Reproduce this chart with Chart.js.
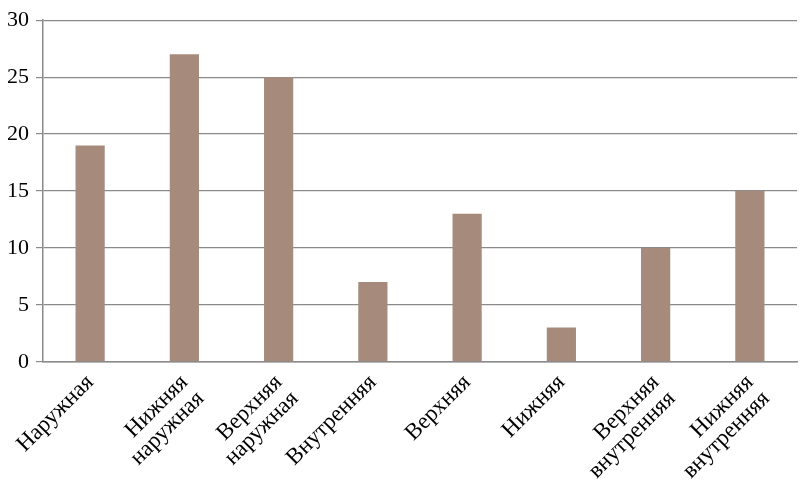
<!DOCTYPE html>
<html>
<head>
<meta charset="utf-8">
<script src="https://cdn.jsdelivr.net/npm/chart.js@4/dist/chart.umd.min.js"></script>
<style>
  html, body { margin: 0; padding: 0; background: #fff; }
  #wrap { width: 800px; height: 487px; }
</style>
</head>
<body>
<div id="wrap"><canvas id="chart"></canvas></div>
<script>
const categories = [
    ['Наружная'],
    ['Нижняя', 'наружная'],
    ['Верхняя', 'наружная'],
    ['Внутренняя'],
    ['Верхняя'],
    ['Нижняя'],
    ['Верхняя', 'внутренняя'],
    ['Нижняя', 'внутренняя']
];
const values = [19, 27, 25, 7, 13, 3, 10, 15];
const yTicks = [0, 5, 10, 15, 20, 25, 30];

const font = '"Liberation Serif", "Times New Roman", serif';

new Chart(document.getElementById('chart'), {
    type: 'bar',
    data: {
        labels: categories,
        datasets: [{
            data: values,
            backgroundColor: '#a68b7d',
            borderWidth: 0,
            categoryPercentage: 1,
            barPercentage: 0.31
        }]
    },
    options: {
        responsive: true,
        maintainAspectRatio: false,
        animation: false,
        layout: { padding: { top: 0, right: 3, left: 0, bottom: 0 } },
        plugins: { legend: { display: false }, tooltip: { enabled: false } },
        scales: {
            x: {
                grid: { display: false },
                border: { display: true, color: '#8a8a8a', width: 1.5 },
                ticks: {
                    color: '#000',
                    font: { family: font, size: 23, lineHeight: 1.0 },
                    maxRotation: 45,
                    minRotation: 45,
                    padding: 1
                }
            },
            y: {
                min: 0,
                max: 30,
                afterBuildTicks: axis => { axis.ticks = yTicks.map(v => ({ value: v })); },
                grid: { color: '#8a8a8a', lineWidth: 1.2, tickLength: 7 },
                border: { display: true, color: '#8a8a8a', width: 1.5 },
                ticks: {
                    color: '#000',
                    font: { family: font, size: 22 },
                    padding: 7
                }
            }
        }
    }
});
</script>
</body>
</html>
